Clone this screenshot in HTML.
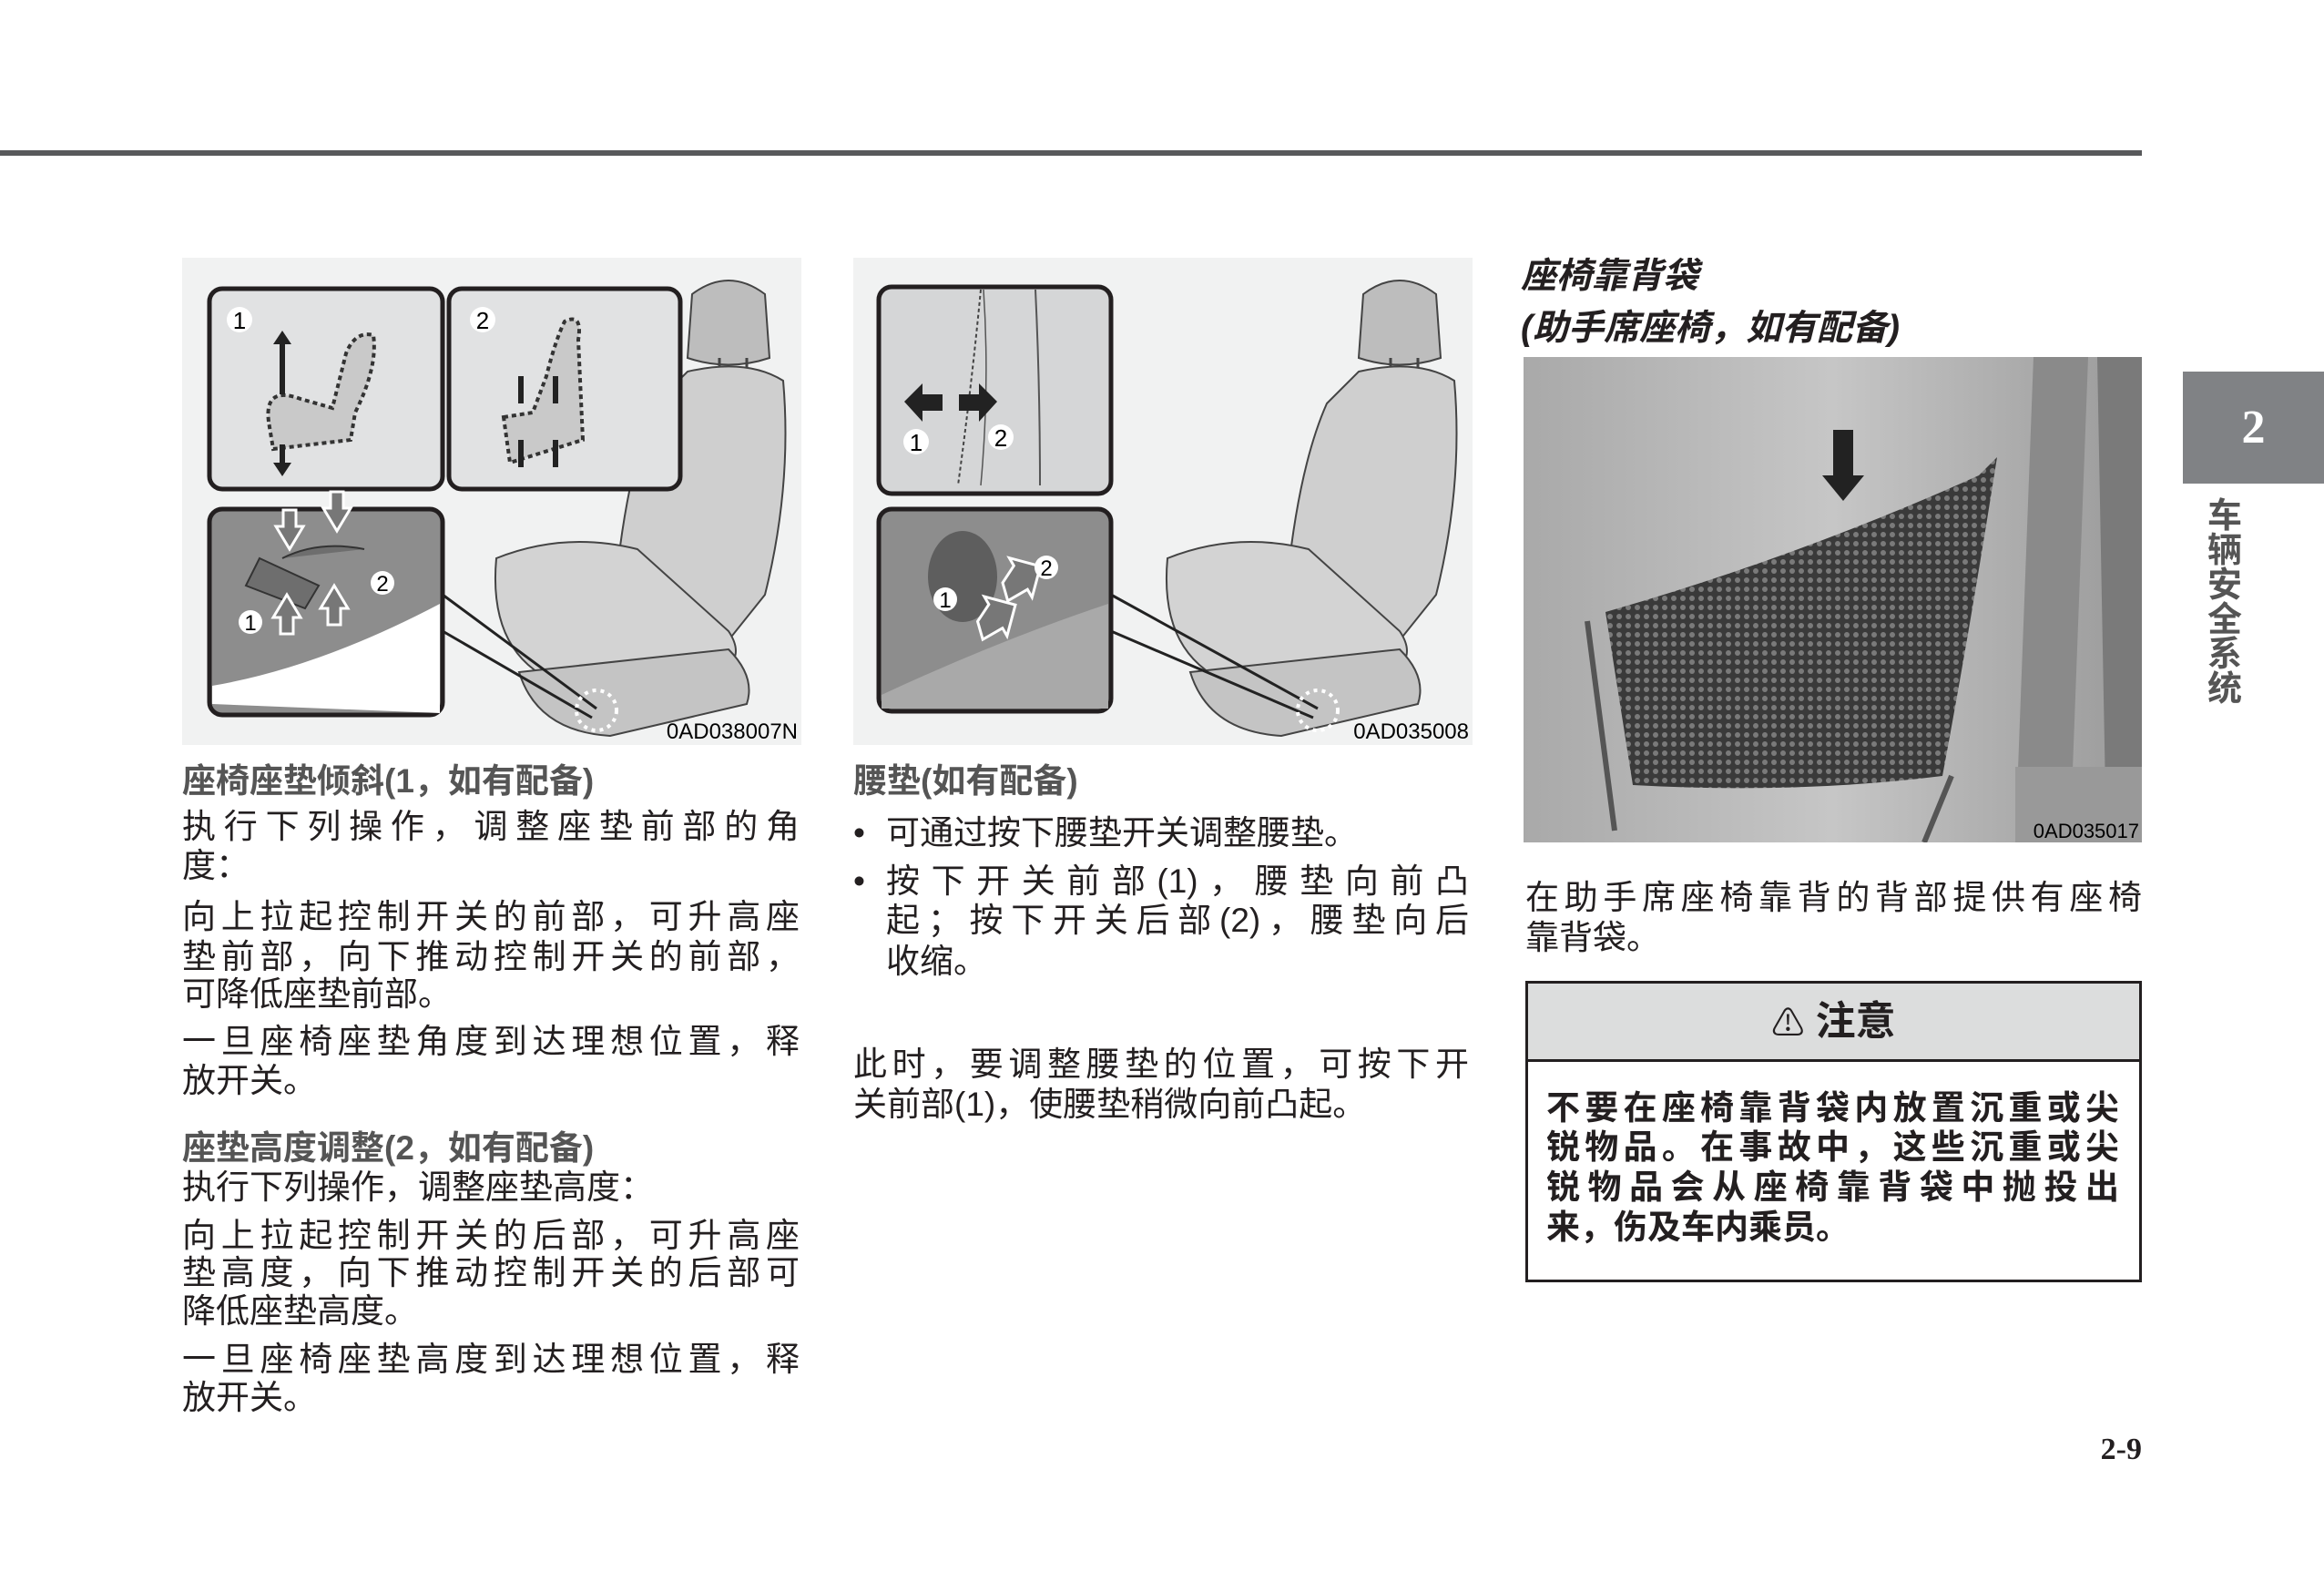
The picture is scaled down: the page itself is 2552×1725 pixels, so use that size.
<!DOCTYPE html>
<html><head><meta charset="utf-8"><style>
*{margin:0;padding:0}
body{width:2552px;height:1725px;background:#fff;position:relative;overflow:hidden;font-family:"Liberation Sans","Noto Sans CJK SC",sans-serif;color:#231f20}
.l{position:absolute;font-size:37px;line-height:44px;height:44px;white-space:nowrap}
.j{text-align:justify;text-align-last:justify}
.h{color:#555;font-weight:bold}
.b{font-weight:bold}
</style></head><body>
<div style="position:absolute;left:0;top:165px;width:2352px;height:6px;background:#58595b"></div>

<!-- Figure 1 -->
<svg style="position:absolute;left:200px;top:283px" width="680" height="535" viewBox="0 0 680 535">
<defs>
<g id="seat">
<path d="M560 40 Q600 10 640 40 L645 110 Q600 125 555 110 Z" fill="#bdbdbd" stroke="#444" stroke-width="2"/>
<path d="M590 110 v15 M620 110 v15" stroke="#444" stroke-width="3"/>
<path d="M555 125 Q620 110 660 135 Q670 250 640 370 L600 420 L470 440 Q480 250 520 160 Z" fill="#cfcfcf" stroke="#444" stroke-width="2"/>
<path d="M345 330 Q420 300 500 320 L600 410 Q620 440 590 455 L420 470 Q335 440 345 330 Z" fill="#d3d3d3" stroke="#444" stroke-width="2"/>
<path d="M370 455 L600 430 Q630 460 620 490 L470 525 Q390 520 370 455 Z" fill="#c4c4c4" stroke="#444" stroke-width="2"/>
</g>
</defs>
<rect width="680" height="535" fill="#f1f2f2"/>
<use href="#seat"/>
<path d="M286 370 L455 495 M286 410 L450 505" stroke="#222" stroke-width="3"/>
<circle cx="455" cy="497" r="22" fill="none" stroke="#fff" stroke-width="4" stroke-dasharray="4 5"/>
<rect x="30" y="34" width="256" height="220" rx="14" fill="#e1e2e3" stroke="#231f20" stroke-width="5"/>
<rect x="293" y="34" width="254" height="220" rx="14" fill="#e1e2e3" stroke="#231f20" stroke-width="5"/>
<circle cx="63" cy="68" r="14" fill="#fff"/><text x="63" y="78" font-size="26" text-anchor="middle" font-family="Liberation Sans">1</text>
<circle cx="330" cy="68" r="14" fill="#fff"/><text x="330" y="78" font-size="26" text-anchor="middle" font-family="Liberation Sans">2</text>
<path d="M95 180 Q90 140 130 155 L165 165 L180 105 Q190 80 210 85 Q215 120 190 170 L185 200 L100 210 Z" fill="#c9c9c9" stroke="#333" stroke-width="4" stroke-dasharray="5 4"/>
<path d="M110 150 v-60 M110 205 v30" stroke="#222" stroke-width="6"/><path d="M100 95 l10 -15 l10 15z M100 225 l10 15 l10 -15z" fill="#222"/>
<path d="M650 60 v0" />
<path d="M353 175 L385 170 L400 130 Q410 90 420 70 Q440 60 435 90 L440 200 L360 225 Z" fill="#c9c9c9" stroke="#333" stroke-width="4" stroke-dasharray="5 4"/>
<path d="M372 160 v-30 M410 160 v-30 M372 200 v30 M410 200 v30" stroke="#222" stroke-width="6"/>
<rect x="30" y="276" width="256" height="226" rx="14" fill="#8d8d8d" stroke="#231f20" stroke-width="5"/>
<path d="M33 490 L33 470 Q150 450 283 380 L283 500 Z" fill="#fff"/>
<path d="M85 330 L150 360 L135 385 L70 360 Z M110 330 Q150 310 200 320" fill="#6e6e6e" stroke="#333" stroke-width="2"/>
<path d="M118 320 l-15 -25 h8 v-18 h14 v18 h8z M170 300 l-15 -25 h8 v-18 h14 v18 h8z M115 370 l-15 25 h8 v18 h14 v-18 h8z M167 360 l-15 25 h8 v18 h14 v-18 h8z" fill="#777" stroke="#fff" stroke-width="3"/>
<circle cx="75" cy="400" r="13" fill="#fff"/><text x="75" y="409" font-size="24" text-anchor="middle" font-family="Liberation Sans">1</text>
<circle cx="220" cy="357" r="13" fill="#fff"/><text x="220" y="366" font-size="24" text-anchor="middle" font-family="Liberation Sans">2</text>
<text x="676" y="528" font-size="24" text-anchor="end" font-family="Liberation Sans" transform="scale(1,1)">0AD038007N</text>
</svg>

<!-- Figure 2 -->
<svg style="position:absolute;left:937px;top:283px" width="680" height="535" viewBox="0 0 680 535">
<rect width="680" height="535" fill="#f1f2f2"/>
<use href="#seat"/>
<path d="M283 370 L510 495 M283 410 L505 505" stroke="#222" stroke-width="3"/>
<circle cx="510" cy="497" r="22" fill="none" stroke="#fff" stroke-width="4" stroke-dasharray="4 5"/>
<rect x="28" y="32" width="255" height="227" rx="14" fill="#d5d6d7" stroke="#231f20" stroke-width="5"/>
<path d="M140 35 Q130 140 115 250" stroke="#444" stroke-width="2" stroke-dasharray="4 3" fill="none"/>
<path d="M143 35 Q150 140 140 250" stroke="#555" stroke-width="1.5" fill="none"/>
<path d="M200 35 Q205 140 205 250" stroke="#555" stroke-width="2" fill="none"/>
<path d="M56 158 l20 -20 v12 h22 v18 h-22 v12z M158 158 l-20 -20 v12 h-22 v18 h22 v12z" fill="#222"/>
<circle cx="69" cy="202" r="14" fill="#fff"/><text x="69" y="212" font-size="26" text-anchor="middle" font-family="Liberation Sans">1</text>
<circle cx="162" cy="197" r="14" fill="#fff"/><text x="162" y="207" font-size="26" text-anchor="middle" font-family="Liberation Sans">2</text>
<rect x="28" y="276" width="255" height="222" rx="14" fill="#8d8d8d" stroke="#231f20" stroke-width="5"/>
<ellipse cx="120" cy="350" rx="38" ry="50" fill="#5e5e5e"/>
<path d="M31 495 L31 480 Q160 420 280 380 L280 495 Z" fill="#a9a9a9"/>
<path d="M130 385 l20 -10 v-10 l25 25 l-25 25 v-10 h-25z M175 362 l20 -10 v-10 l25 25 l-25 25 v-10 h-25z" fill="#777" stroke="#fff" stroke-width="3" transform="rotate(-30 160 380)"/>
<circle cx="101" cy="375" r="13" fill="#fff"/><text x="101" y="384" font-size="24" text-anchor="middle" font-family="Liberation Sans">1</text>
<circle cx="212" cy="340" r="13" fill="#fff"/><text x="212" y="349" font-size="24" text-anchor="middle" font-family="Liberation Sans">2</text>
<text x="676" y="528" font-size="24" text-anchor="end" font-family="Liberation Sans">0AD035008</text>
</svg>

<!-- Photo -->
<svg style="position:absolute;left:1673px;top:392px" width="679" height="533" viewBox="0 0 679 533">
<defs>
<linearGradient id="pg" x1="0" y1="0" x2="1" y2="0"><stop offset="0" stop-color="#a9a9a9"/><stop offset=".5" stop-color="#c6c6c6"/><stop offset="1" stop-color="#9a9a9a"/></linearGradient>
<pattern id="net" width="10" height="10" patternUnits="userSpaceOnUse"><rect width="10" height="10" fill="#3a3a3a"/><circle cx="5" cy="5" r="3" fill="#7a7a7a"/></pattern>
</defs>
<rect width="679" height="533" fill="url(#pg)"/>
<path d="M560 0 L620 0 L600 533 L540 533 Z" fill="#8a8a8a"/>
<path d="M630 0 L679 0 L679 533 L640 533 Z" fill="#7a7a7a"/>
<path d="M90 280 Q300 220 500 130 L520 110 Q490 300 460 460 Q300 480 120 470 Z" fill="url(#net)"/>
<path d="M70 290 L100 520 M470 460 L440 533" stroke="#555" stroke-width="6"/>
<path d="M340 80 v50 h-12 l23 28 l23 -28 h-12 v-50z" fill="#222"/>
<rect x="540" y="450" width="139" height="83" fill="#999"/>
<text x="676" y="528" font-size="22" text-anchor="end" font-family="Liberation Sans">0AD035017</text>
</svg>

<!-- right column headings -->
<div class="l b" style="left:1670px;top:280px;font-size:39px;font-style:italic;height:48px;line-height:48px">座椅靠背袋</div>
<div class="l b" style="left:1670px;top:337px;font-size:39px;font-style:italic;height:48px;line-height:48px">(助手席座椅，如有配备)</div>

<!-- side tab -->
<div style="position:absolute;left:2397px;top:408px;width:155px;height:123px;background:#808285"></div>
<div style="position:absolute;left:2397px;top:440px;width:155px;text-align:center;color:#fff;font:bold 52px 'Liberation Serif',serif">2</div>
<div style="position:absolute;left:2420px;top:548px;width:46px;font-size:38px;line-height:38px;font-weight:bold;color:#555;text-align:center">车<br>辆<br>安<br>全<br>系<br>统</div>

<!-- col1 -->
<div class="l h" style="left:200px;top:836px">座椅座垫倾斜(1，如有配备)</div>
<div class="l j" style="left:200px;top:886px;width:678px">执行下列操作，调整座垫前部的角</div>
<div class="l" style="left:200px;top:929px">度：</div>
<div class="l j" style="left:200px;top:985px;width:678px">向上拉起控制开关的前部，可升高座</div>
<div class="l j" style="left:200px;top:1029px;width:678px">垫前部，向下推动控制开关的前部，</div>
<div class="l" style="left:200px;top:1070px">可降低座垫前部。</div>
<div class="l j" style="left:200px;top:1122px;width:678px">一旦座椅座垫角度到达理想位置，释</div>
<div class="l" style="left:200px;top:1165px">放开关。</div>
<div class="l h" style="left:200px;top:1239px">座垫高度调整(2，如有配备)</div>
<div class="l" style="left:200px;top:1282px">执行下列操作，调整座垫高度：</div>
<div class="l j" style="left:200px;top:1335px;width:678px">向上拉起控制开关的后部，可升高座</div>
<div class="l j" style="left:200px;top:1376px;width:678px">垫高度，向下推动控制开关的后部可</div>
<div class="l" style="left:200px;top:1418px">降低座垫高度。</div>
<div class="l j" style="left:200px;top:1471px;width:678px">一旦座椅座垫高度到达理想位置，释</div>
<div class="l" style="left:200px;top:1513px">放开关。</div>

<!-- col2 -->
<div class="l h" style="left:937px;top:836px">腰垫(如有配备)</div>
<div class="l" style="left:937px;top:893px">•</div>
<div class="l" style="left:973px;top:893px">可通过按下腰垫开关调整腰垫。</div>
<div class="l" style="left:937px;top:946px">•</div>
<div class="l j" style="left:973px;top:946px;width:640px">按下开关前部(1)，腰垫向前凸</div>
<div class="l j" style="left:973px;top:989px;width:640px">起；按下开关后部(2)，腰垫向后</div>
<div class="l" style="left:973px;top:1034px">收缩。</div>
<div class="l j" style="left:937px;top:1147px;width:676px">此时，要调整腰垫的位置，可按下开</div>
<div class="l" style="left:937px;top:1191px">关前部(1)，使腰垫稍微向前凸起。</div>

<!-- col3 -->
<div class="l j" style="left:1675px;top:964px;width:677px">在助手席座椅靠背的背部提供有座椅</div>
<div class="l" style="left:1675px;top:1008px">靠背袋。</div>
<div style="position:absolute;left:1675px;top:1077px;width:671px;height:325px;border:3px solid #231f20"></div>
<div style="position:absolute;left:1678px;top:1080px;width:671px;height:83px;background:#dcdddd;border-bottom:3px solid #231f20;text-align:center;font-size:44px;line-height:83px;font-weight:bold"><span style="font-size:36px;font-weight:normal">⚠</span> 注意</div>
<div class="l b j" style="left:1698px;top:1195px;width:629px">不要在座椅靠背袋内放置沉重或尖</div>
<div class="l b j" style="left:1698px;top:1238px;width:629px">锐物品。在事故中，这些沉重或尖</div>
<div class="l b j" style="left:1698px;top:1282px;width:629px">锐物品会从座椅靠背袋中抛投出</div>
<div class="l b" style="left:1698px;top:1326px">来，伤及车内乘员。</div>

<div style="position:absolute;left:2290px;top:1573px;width:62px;text-align:right;font:bold 34px 'Liberation Serif',serif">2-9</div>
</body></html>
